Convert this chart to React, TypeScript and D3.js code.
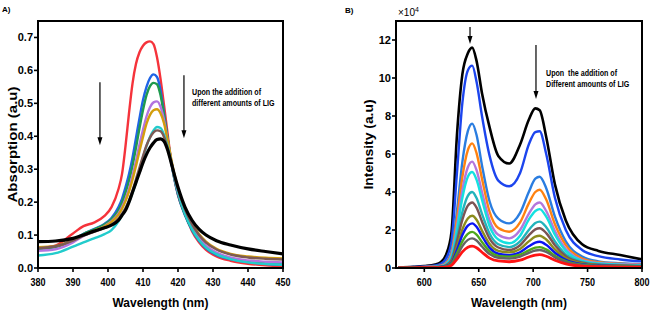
import * as d3 from "d3";
import { useMemo } from "react";

const FONT = "'Liberation Sans', Arial, Helvetica, sans-serif";

// ---- Panel A: absorption spectra (nm vs a.u.) ----
const absWavelengths = [380, 385, 390, 393, 396, 399, 401, 403, 404, 405, 406, 407, 408, 409, 410, 411, 412, 413, 414, 415, 416, 417, 418, 419, 420, 422, 424, 426, 428, 431, 435, 440, 445, 450];
const absRed = [0.060, 0.068, 0.105, 0.127, 0.138, 0.158, 0.185, 0.240, 0.285, 0.370, 0.470, 0.560, 0.620, 0.655, 0.675, 0.685, 0.688, 0.680, 0.640, 0.575, 0.495, 0.410, 0.330, 0.270, 0.222, 0.165, 0.112, 0.078, 0.055, 0.035, 0.022, 0.013, 0.008, 0.005];
const absBlue = [0.058, 0.064, 0.085, 0.104, 0.118, 0.134, 0.152, 0.185, 0.210, 0.245, 0.285, 0.335, 0.395, 0.455, 0.510, 0.550, 0.577, 0.588, 0.580, 0.540, 0.470, 0.395, 0.325, 0.268, 0.222, 0.160, 0.115, 0.083, 0.060, 0.040, 0.027, 0.018, 0.013, 0.010];
const absGreen = [0.058, 0.064, 0.084, 0.103, 0.117, 0.132, 0.148, 0.175, 0.198, 0.228, 0.265, 0.310, 0.365, 0.425, 0.480, 0.525, 0.552, 0.562, 0.558, 0.525, 0.465, 0.395, 0.328, 0.270, 0.225, 0.162, 0.117, 0.085, 0.062, 0.042, 0.028, 0.019, 0.014, 0.011];
const absPurple = [0.052, 0.057, 0.078, 0.097, 0.112, 0.127, 0.142, 0.166, 0.185, 0.210, 0.240, 0.280, 0.325, 0.375, 0.420, 0.460, 0.488, 0.503, 0.506, 0.490, 0.450, 0.390, 0.330, 0.275, 0.230, 0.167, 0.123, 0.092, 0.068, 0.047, 0.032, 0.023, 0.019, 0.017];
const absGold = [0.063, 0.067, 0.085, 0.100, 0.113, 0.126, 0.140, 0.162, 0.180, 0.203, 0.232, 0.268, 0.310, 0.355, 0.398, 0.438, 0.465, 0.479, 0.482, 0.470, 0.440, 0.390, 0.335, 0.283, 0.240, 0.178, 0.135, 0.103, 0.080, 0.058, 0.043, 0.035, 0.031, 0.029];
const absCyan = [0.038, 0.045, 0.065, 0.078, 0.090, 0.103, 0.115, 0.142, 0.160, 0.178, 0.200, 0.228, 0.260, 0.298, 0.336, 0.370, 0.398, 0.418, 0.428, 0.425, 0.405, 0.370, 0.325, 0.277, 0.233, 0.165, 0.118, 0.085, 0.062, 0.042, 0.027, 0.017, 0.012, 0.010];
const absBrown = [0.060, 0.066, 0.083, 0.098, 0.110, 0.122, 0.132, 0.150, 0.165, 0.182, 0.205, 0.235, 0.270, 0.305, 0.340, 0.372, 0.396, 0.412, 0.418, 0.415, 0.398, 0.365, 0.325, 0.280, 0.240, 0.178, 0.133, 0.100, 0.077, 0.056, 0.041, 0.032, 0.028, 0.026];
const absBlack = [0.080, 0.082, 0.090, 0.100, 0.112, 0.122, 0.130, 0.145, 0.160, 0.175, 0.200, 0.230, 0.260, 0.290, 0.320, 0.345, 0.365, 0.380, 0.390, 0.392, 0.385, 0.360, 0.322, 0.282, 0.245, 0.185, 0.145, 0.118, 0.100, 0.083, 0.070, 0.058, 0.050, 0.043];
const absXTicks = [380, 390, 400, 410, 420, 430, 440, 450];
const absYTicks = [0, 0.1, 0.2, 0.3, 0.4, 0.5, 0.6, 0.7];

// ---- Panel B: emission spectra (nm vs intensity x1e4) ----
const emWavelengths = [576, 590, 600, 610, 615, 620, 625, 630, 635, 640, 644, 648, 653, 660, 668, 678, 688, 696, 702, 706, 712, 720, 730, 745, 760, 780, 800];
const emBlack = [0.03, 0.06, 0.10, 0.18, 0.30, 0.70, 1.90, 7.00, 10.2, 11.3, 11.6, 10.9, 9.2, 7.4, 5.9, 5.5, 6.5, 7.8, 8.4, 8.3, 6.9, 4.4, 2.5, 1.25, 0.9, 0.68, 0.45];
const emBlue2 = [0.03, 0.05, 0.08, 0.14, 0.22, 0.50, 1.40, 5.00, 8.70, 10.4, 10.65, 9.8, 8.0, 5.9, 4.6, 4.3, 5.0, 6.5, 7.15, 7.2, 6.0, 3.7, 2.0, 0.95, 0.62, 0.45, 0.35];
const emLightBlue = [0.02, 0.04, 0.06, 0.10, 0.15, 0.30, 0.90, 3.00, 5.60, 7.20, 7.60, 7.00, 5.40, 3.50, 2.60, 2.35, 2.90, 4.00, 4.70, 4.80, 4.20, 2.70, 1.40, 0.60, 0.35, 0.25, 0.20];
const emOrange = [0.02, 0.03, 0.05, 0.08, 0.12, 0.25, 0.75, 2.60, 4.80, 6.20, 6.56, 6.05, 4.70, 2.95, 2.10, 1.91, 2.40, 3.40, 4.00, 4.12, 3.60, 2.30, 1.20, 0.50, 0.30, 0.22, 0.18];
const emPurple = [0.02, 0.03, 0.04, 0.07, 0.10, 0.21, 0.65, 2.20, 4.10, 5.30, 5.60, 5.15, 4.00, 2.50, 1.75, 1.56, 2.00, 2.85, 3.35, 3.45, 3.00, 1.95, 1.00, 0.42, 0.26, 0.20, 0.16];
const emCyan = [0.02, 0.03, 0.04, 0.06, 0.09, 0.19, 0.58, 2.00, 3.70, 4.80, 5.05, 4.65, 3.60, 2.20, 1.50, 1.30, 1.70, 2.55, 3.00, 3.10, 2.70, 1.75, 0.90, 0.38, 0.24, 0.18, 0.15];
const emTeal = [0.02, 0.03, 0.04, 0.05, 0.08, 0.16, 0.47, 1.60, 2.95, 3.80, 4.00, 3.68, 2.85, 1.80, 1.25, 1.10, 1.40, 2.00, 2.37, 2.44, 2.15, 1.40, 0.72, 0.32, 0.20, 0.15, 0.12];
const emBrown = [0.02, 0.03, 0.03, 0.05, 0.07, 0.14, 0.40, 1.40, 2.55, 3.28, 3.45, 3.18, 2.45, 1.55, 1.08, 0.95, 1.20, 1.72, 2.03, 2.09, 1.84, 1.20, 0.62, 0.28, 0.17, 0.13, 0.10];
const emOlive = [0.02, 0.02, 0.03, 0.04, 0.06, 0.11, 0.32, 1.10, 2.03, 2.60, 2.75, 2.54, 1.97, 1.26, 0.90, 0.82, 1.00, 1.40, 1.65, 1.70, 1.50, 0.98, 0.52, 0.24, 0.15, 0.11, 0.09];
const emBlue = [0.02, 0.02, 0.03, 0.04, 0.05, 0.10, 0.28, 0.95, 1.74, 2.23, 2.35, 2.17, 1.68, 1.06, 0.75, 0.68, 0.83, 1.14, 1.34, 1.38, 1.22, 0.80, 0.43, 0.20, 0.13, 0.10, 0.08];
const emGreen = [0.02, 0.02, 0.02, 0.03, 0.04, 0.08, 0.23, 0.77, 1.40, 1.80, 1.90, 1.76, 1.37, 0.88, 0.64, 0.60, 0.70, 0.93, 1.07, 1.10, 0.98, 0.65, 0.36, 0.17, 0.11, 0.09, 0.07];
const emGray = [0.02, 0.02, 0.02, 0.03, 0.04, 0.07, 0.19, 0.63, 1.15, 1.48, 1.56, 1.45, 1.13, 0.73, 0.54, 0.50, 0.60, 0.80, 0.92, 0.95, 0.85, 0.56, 0.31, 0.15, 0.10, 0.08, 0.06];
const emRed = [0.01, 0.01, 0.02, 0.02, 0.03, 0.05, 0.14, 0.47, 0.85, 1.09, 1.15, 1.07, 0.83, 0.52, 0.37, 0.33, 0.41, 0.58, 0.68, 0.70, 0.62, 0.41, 0.22, 0.10, 0.07, 0.05, 0.04];
const emXTicks = [600, 650, 700, 750, 800];
const emYTicks = [0, 2, 4, 6, 8, 10, 12];

type Series = { color: string; values: number[]; width: number };

type Arrow = { x: number; y0: number; y1: number };

type PanelProps = {
  id: string;
  left: number;
  right: number;
  top: number;
  bottom: number;
  xDomain: [number, number];
  yDomain: [number, number];
  xTicks: number[];
  yTicks: number[];
  yFormat: (v: number) => string;
  wavelengths: number[];
  series: Series[];
  yTitle: string;
  yTitleX: number;
  yTitleLength: number;
  arrows: Arrow[];
  noteX: number;
  noteY: [number, number];
  notes: [string, string];
};

const SpectrumPanel = (p: PanelProps) => {
  const xScale = useMemo(
    () => d3.scaleLinear().domain(p.xDomain).range([p.left, p.right]),
    [p.xDomain, p.left, p.right]
  );
  const yScale = useMemo(
    () => d3.scaleLinear().domain(p.yDomain).range([p.bottom, p.top]),
    [p.yDomain, p.top, p.bottom]
  );

  const line = d3
    .line<number>()
    .x((_, i) => xScale(p.wavelengths[i]))
    .y((d) => yScale(d))
    .curve(d3.curveMonotoneX);

  const midX = (p.left + p.right) / 2;
  const midY = (p.top + p.bottom) / 2;

  return (
    <g fontFamily={FONT} fontWeight="bold">
      <defs>
        <clipPath id={p.id}>
          <rect x={p.left} y={p.top} width={p.right - p.left} height={p.bottom - p.top} />
        </clipPath>
      </defs>

      <g clipPath={`url(#${p.id})`} fill="none" strokeLinejoin="round">
        {p.series.map((s, i) => (
          <path key={i} d={line(s.values) ?? ""} stroke={s.color} strokeWidth={s.width} />
        ))}
      </g>

      {/* frame */}
      <rect
        x={p.left}
        y={p.top}
        width={p.right - p.left}
        height={p.bottom - p.top}
        fill="none"
        stroke="#000"
        strokeWidth={2}
      />

      {/* x axis */}
      {p.xTicks.map((t) => (
        <g key={t}>
          <line x1={xScale(t)} x2={xScale(t)} y1={p.bottom} y2={p.bottom + 4} stroke="#000" strokeWidth={1.6} />
          <text x={xScale(t)} y={p.bottom + 18} fontSize={11} textAnchor="middle" textLength={15} lengthAdjust="spacingAndGlyphs">
            {t}
          </text>
        </g>
      ))}

      {/* y axis */}
      {p.yTicks.map((t) => (
        <g key={t}>
          <line x1={p.left - 4} x2={p.left} y1={yScale(t)} y2={yScale(t)} stroke="#000" strokeWidth={1.6} />
          <text x={p.left - 5} y={yScale(t) + 4} fontSize={11} textAnchor="end">
            {p.yFormat(t)}
          </text>
        </g>
      ))}

      <text
        x={midX}
        y={307}
        fontSize={13.5}
        textAnchor="middle"
        textLength={96}
        lengthAdjust="spacingAndGlyphs"
      >
        Wavelength (nm)
      </text>
      <text
        transform={`translate(${p.yTitleX},${midY}) rotate(-90)`}
        fontSize={13.5}
        textAnchor="middle"
        textLength={p.yTitleLength}
        lengthAdjust="spacingAndGlyphs"
      >
        {p.yTitle}
      </text>

      {/* annotations */}
      {p.arrows.map((a, i) => {
        const x = xScale(a.x);
        const ya = yScale(a.y0);
        const yb = yScale(a.y1);
        return (
          <g key={i}>
            <line x1={x} x2={x} y1={ya} y2={yb - 6} stroke="#000" strokeWidth={1.2} />
            <path d={`M${x - 2.5},${yb - 8} L${x + 2.5},${yb - 8} L${x},${yb} Z`} fill="#000" />
          </g>
        );
      })}
      {p.notes.map((n, i) => (
        <text
          key={i}
          transform={`translate(${xScale(p.noteX)},${yScale(p.noteY[i])}) scale(0.75,1)`}
          fontSize={9.5}
          style={{ whiteSpace: "pre" }}
        >
          {n}
        </text>
      ))}
    </g>
  );
};

export default function App() {
  const absSeries: Series[] = [
    { color: "#f5333b", values: absRed, width: 2.4 },
    { color: "#1f64e6", values: absBlue, width: 2.4 },
    { color: "#1f9a4e", values: absGreen, width: 2.4 },
    { color: "#b274e0", values: absPurple, width: 2.4 },
    { color: "#d39e0c", values: absGold, width: 2.4 },
    { color: "#22cccc", values: absCyan, width: 2.4 },
    { color: "#7d5a55", values: absBrown, width: 2.4 },
    { color: "#000000", values: absBlack, width: 3.2 },
  ];

  const emSeries: Series[] = [
    { color: "#000000", values: emBlack, width: 2.6 },
    { color: "#1c45ee", values: emBlue2, width: 2.4 },
    { color: "#2a7de0", values: emLightBlue, width: 2.4 },
    { color: "#ff8210", values: emOrange, width: 2.4 },
    { color: "#b477dc", values: emPurple, width: 2.4 },
    { color: "#14e0e0", values: emCyan, width: 2.4 },
    { color: "#22b4bc", values: emTeal, width: 2.4 },
    { color: "#7b5454", values: emBrown, width: 2.4 },
    { color: "#8c8c1c", values: emOlive, width: 2.4 },
    { color: "#0a14f5", values: emBlue, width: 2.4 },
    { color: "#4ea81c", values: emGreen, width: 2.4 },
    { color: "#646464", values: emGray, width: 2.4 },
    { color: "#ff1414", values: emRed, width: 2.8 },
  ];

  return (
    <svg
      width={652}
      height={314}
      style={{ position: "absolute", left: 0, top: 0, background: "#fff" }}
    >
      <text x={2} y={12} fontFamily={FONT} fontWeight="bold" fontSize={8}>
        A)
      </text>
      <text x={345} y={13} fontFamily={FONT} fontWeight="bold" fontSize={8}>
        B)
      </text>

      <SpectrumPanel
        id="clipA"
        left={38}
        right={283}
        top={21}
        bottom={268}
        xDomain={[380, 450]}
        yDomain={[0, 0.75]}
        xTicks={absXTicks}
        yTicks={absYTicks}
        yFormat={d3.format(".1f")}
        wavelengths={absWavelengths}
        series={absSeries}
        yTitle="Absorption (a.u)"
        yTitleX={17}
        yTitleLength={116}
        arrows={[
          { x: 397.7, y0: 0.564, y1: 0.373 },
          { x: 421.7, y0: 0.585, y1: 0.394 },
        ]}
        noteX={424}
        noteY={[0.524, 0.491]}
        notes={["Upon the addition of", "different amounts of LIG"]}
      />

      <SpectrumPanel
        id="clipB"
        left={396}
        right={642}
        top={21}
        bottom={268}
        xDomain={[574, 800]}
        yDomain={[0, 13]}
        xTicks={emXTicks}
        yTicks={emYTicks}
        yFormat={(v) => `${v}`}
        wavelengths={emWavelengths}
        series={emSeries}
        yTitle="Intensity (a.u)"
        yTitleX={373}
        yTitleLength={90}
        arrows={[
          { x: 642, y0: 12.68, y1: 11.79 },
          { x: 702.6, y0: 11.74, y1: 8.9 },
        ]}
        noteX={711.8}
        noteY={[10.1, 9.53]}
        notes={["Upon  the addition of", "Different amounts of LIG"]}
      />

      <text x={398} y={16} fontFamily={FONT} fontSize={10}>
        ×10
        <tspan dy={-4} fontSize={7}>
          4
        </tspan>
      </text>
    </svg>
  );
}
